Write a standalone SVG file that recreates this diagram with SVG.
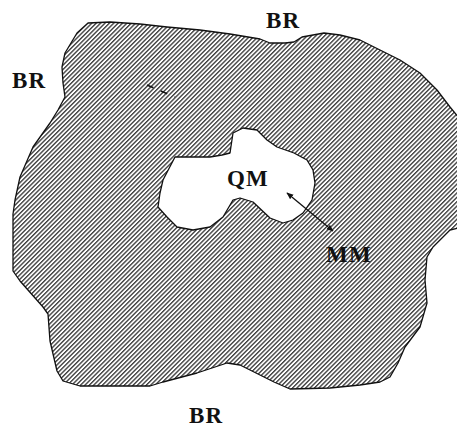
<svg xmlns="http://www.w3.org/2000/svg" width="457" height="428" viewBox="0 0 457 428">
<style>
.lbl{font-family:"Liberation Serif","Times New Roman",serif;font-weight:bold;font-size:23px;fill:#111;letter-spacing:1.2px}
.edge{stroke:#111;stroke-width:1.3;fill:none}
</style>
<defs>
<pattern id="hatch" width="3.1" height="10" patternUnits="userSpaceOnUse" patternTransform="rotate(45)">
<rect width="3.1" height="10" fill="#fff"/>
<line x1="0.7" y1="0" x2="0.7" y2="10" stroke="#1a1a1a" stroke-width="1.15"/>
</pattern>
<marker id="ah" viewBox="0 0 10 10" refX="9" refY="5" markerWidth="7" markerHeight="7" orient="auto-start-reverse" markerUnits="userSpaceOnUse">
<path d="M0,1 L10,5 L0,9 Z" fill="#111"/>
</marker>
</defs>
<rect width="457" height="428" fill="#fff"/>
<g id="region">
<path fill="url(#hatch)" fill-rule="evenodd" stroke="#111" stroke-width="1.3" stroke-linejoin="round" d="M88,23 L110,22 L140,24 L167,27 L200,30 L230,34 L260,39 L270,43 L285,43 L294,42 L302,37 L324,33 L340,35 L360,40 L380,50 L400,60 L420,73 L437,90 L450,107 L459,118 L459,228 L450,230 L433,247 L427,257 L425,280 L427,303 L420,327 L405,347 L398,363 L390,377 L380,382 L360,385 L330,388 L290,389 L274,382 L254,372 L240,365 L227,363 L197,373 L163,382 L150,386 L80,386 L63,381 L57,371 L50,341 L48,314 L43,307 L20,281 L13,271 L13,214 L15,200 L20,177 L33,147 L50,123 L58,110 L65,97 L63,83 L62,67 L65,53 L77,33 Z M230,153 L233,133 L243,128 L257,130 L267,140 L277,147 L294,153 L307,160 L313,170 L315,183 L312,200 L303,213 L293,220 L283,223 L270,218 L253,202 L240,198 L233,200 L223,217 L210,227 L193,230 L177,227 L167,217 L158,207 L160,193 L163,180 L175,157 L210,157 L222,155 Z"/>
<path d="M147,85 L175,97" stroke="#111" stroke-width="1.6" stroke-dasharray="7,8" fill="none"/>
</g>
<g id="connectors">
<line class="edge" x1="287" y1="193" x2="333" y2="231" marker-start="url(#ah)" marker-end="url(#ah)"/>
</g>
<g id="labels">
<text id="br-top" class="lbl" x="266" y="28">BR</text>
<text id="br-left" class="lbl" x="12" y="88">BR</text>
<text id="br-bottom" class="lbl" x="189" y="423">BR</text>
<text id="qm" class="lbl" x="227" y="186">QM</text>
<text id="mm" class="lbl" x="326" y="262">MM</text>
</g>
</svg>
